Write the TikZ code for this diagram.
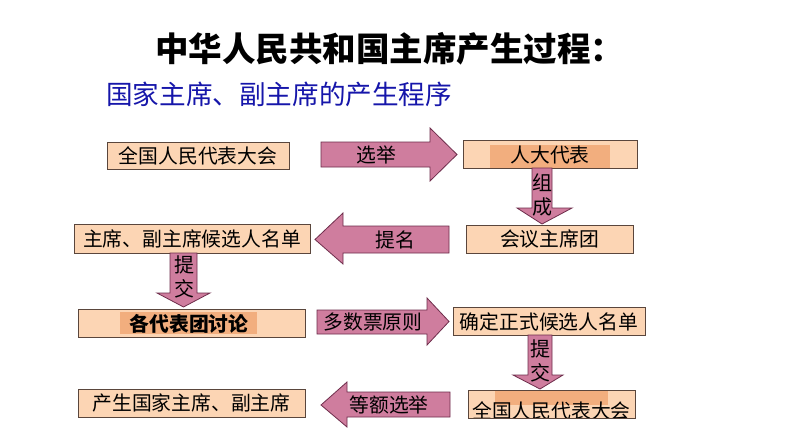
\documentclass[tikz,border=0pt]{standalone}
\usepackage{fontspec}
\setmainfont{Noto Sans CJK SC}
\newfontfamily\cjk{Noto Sans CJK SC}
\definecolor{boxfill}{RGB}{252,213,180}
\definecolor{hilite}{RGB}{242,174,126}
\definecolor{boxline}{RGB}{90,70,60}
\definecolor{arrfill}{RGB}{207,125,158}
\definecolor{arrline}{RGB}{110,45,75}
\definecolor{subblue}{RGB}{22,22,170}
\tikzset{
  boxshape/.style={fill=boxfill,draw=boxline,line width=0.9pt},
  hishape/.style={fill=hilite,draw=none},
  blockarrow/.style={fill=arrfill,draw=arrline,line width=0.8pt,line join=miter},
  lbl/.style={inner sep=0pt,font=\cjk\fontsize{19.8}{22}\selectfont,text=black},
  vlbl/.style={inner sep=0pt,font=\cjk\fontsize{20}{24}\selectfont,text=black,align=center},
}
\begin{document}
\begin{tikzpicture}[x=1pt,y=-1pt]
\useasboundingbox[fill=white] (0,0) rectangle (794,447);
% titles
\node[anchor=west,inner sep=0pt,font=\cjk\bfseries\fontsize{33.5}{38}\selectfont] (title) at (155,49) {中华人民共和国主席产生过程：};
\node[anchor=west,inner sep=0pt,text=subblue,font=\cjk\fontsize{26.6}{30}\selectfont] (subtitle) at (106,94) {国家主席、副主席的产生程序};

% row 1
\draw[boxshape] (107,142) rectangle (289,169);
\node[lbl] (A) at (198,155.5) {全国人民代表大会};
\draw[boxshape] (463,140) rectangle (637,168);
\fill[hishape] (490,145) rectangle (610,167.5);
\node[lbl] (B) at (550,155) {人大代表};
\draw[blockarrow] (321,142) -- (430,142) -- (430,128) -- (457,154.5) -- (430,181) -- (430,167) -- (321,167) -- cycle;
\node[lbl] (a1) at (376,154.5) {选举};

% down arrow 组成
\draw[blockarrow] (532,168) -- (552,168) -- (552,208) -- (572,208) -- (542,224) -- (517,208) -- (532,208) -- cycle;
\node[vlbl] (d1) at (542,195) {组\\成};

% row 2
\draw[boxshape] (74,224) rectangle (310,253);
\node[lbl] (C) at (192,238.5) {主席、副主席候选人名单};
\draw[boxshape] (466,225) rectangle (633,253);
\node[lbl] (D) at (549.5,239) {会议主席团};
\draw[blockarrow] (449,226) -- (343,226) -- (343,213) -- (315,239.5) -- (343,264) -- (343,253) -- (449,253) -- cycle;
\node[lbl] (a2) at (395,239.5) {提名};

% down arrow 提交 (left)
\draw[blockarrow] (170,253) -- (197,253) -- (197,293) -- (210,293) -- (183.5,307) -- (157,293) -- (170,293) -- cycle;
\node[vlbl] (d2) at (184,277) {提\\交};

% row 3
\draw[boxshape] (78,309) rectangle (305,337);
\fill[hishape] (120,312) rectangle (257,334);
\node[lbl,font=\cjk\bfseries\fontsize{19.8}{22}\selectfont] (E) at (189,323.5) {各代表团讨论};
\draw[blockarrow] (317,310) -- (427,310) -- (427,298) -- (449,321.5) -- (427,345) -- (427,334) -- (317,334) -- cycle;
\node[lbl] (a3) at (373,322) {多数票原则};
\draw[boxshape] (453,307) rectangle (645,335);
\node[lbl] (F) at (549,321.5) {确定正式候选人名单};

% down arrow 提交 (right)
\draw[blockarrow] (528,335) -- (552,335) -- (552,375) -- (563,375) -- (540,389) -- (513,375) -- (528,375) -- cycle;
\node[vlbl] (d3) at (540,361) {提\\交};

% row 4
\draw[boxshape] (78,389) rectangle (305,417);
\node[lbl] (G) at (191.5,403) {产生国家主席、副主席};
\draw[blockarrow] (450,392) -- (347,392) -- (347,382) -- (321,405) -- (347,427) -- (347,417) -- (450,417) -- cycle;
\node[lbl] (a4) at (389,405) {等额选举};
\draw[boxshape] (468,390) rectangle (635,418);
\fill[hishape] (495,391) rectangle (608,405);
\begin{scope}
\clip (468,390) rectangle (635,417.5);
\node[lbl] (H) at (551.5,411) {全国人民代表大会};
\end{scope}
\draw[boxline,line width=0.9pt] (468,390) rectangle (635,418);
\end{tikzpicture}
\end{document}
